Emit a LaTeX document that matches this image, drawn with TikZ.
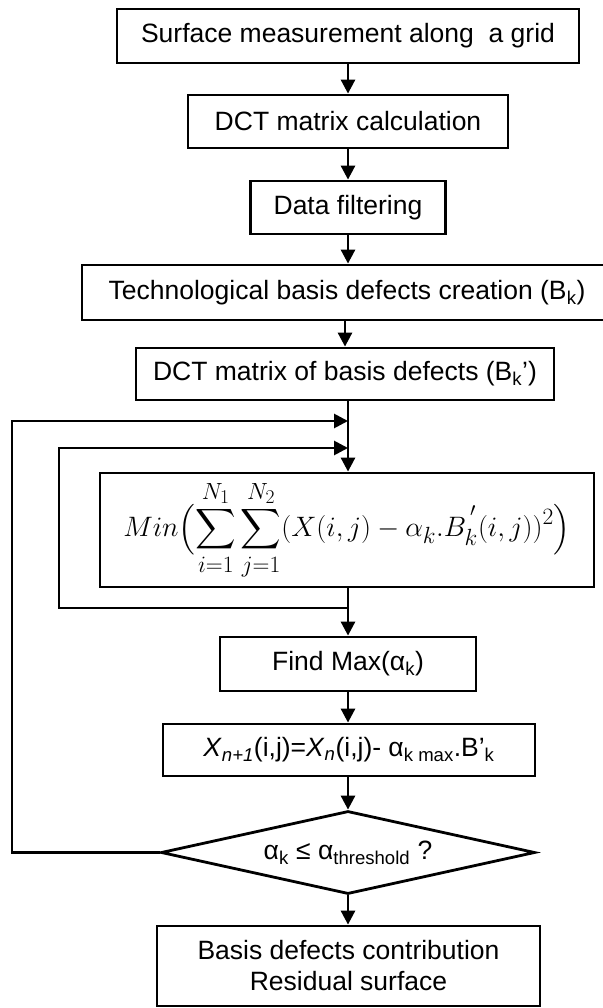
\documentclass[tikz,border=0pt]{standalone}
\usepackage{amsmath}
\usepackage{graphicx}
\usepackage[no-math]{fontspec}
\setmainfont{Liberation Sans}
\usetikzlibrary{shapes.geometric,arrows.meta}
\tikzset{box/.style={draw,rectangle,inner sep=0pt,align=center,line width=2.8pt,font=\fontsize{26.5}{31}\selectfont}}
\tikzset{decide/.style={draw,diamond,aspect=4.5,inner sep=0pt,align=center,line width=2.8pt,font=\fontsize{26.5}{31}\selectfont}}
\tikzset{arr/.style={-{Triangle[length=14pt,width=14pt]},line width=2.8pt}}

\begin{document}
\begin{tikzpicture}[x=1pt,y=-1pt]
    \useasboundingbox (0,0) rectangle (602,1008);

    % main chain of boxes
    \node [box,minimum width=462pt,minimum height=54pt] (meas) at (348,36) {Surface measurement along\ \ a grid};
    \node [box,minimum width=320pt,minimum height=53pt] (dctcalc) at (348,121.5) {DCT matrix calculation};
    \node [box,minimum width=195pt,minimum height=53pt] (filter) at (348,207.5) {Data filtering};
    \node [box,minimum width=530pt,minimum height=55pt] (basis) at (347,292.5) {Technological basis defects creation (B\textsubscript{k})};
    \node [box,minimum width=418pt,minimum height=52pt] (dctbasis) at (345,374) {DCT matrix of basis defects (B\textsubscript{k}’)};

    % least squares
    \node [box,minimum width=494pt,minimum height=114pt] (model) at (347,530)
        {\scalebox{1.13}{\fontsize{24.88}{30}\selectfont$\displaystyle Min\Bigl(\sum_{i=1}^{N_1}\sum_{j=1}^{N_2}(X(i,j)-\alpha_{k}.B_{k}^{\,'}(i,j))^2\Bigr)$}};

    \node [box,minimum width=256pt,minimum height=54pt] (findmax) at (348,664) {Find Max(α\textsubscript{k})};
    \node [box,minimum width=372pt,minimum height=52pt] (update) at (349,750)
        {\textit{X}\textsubscript{\textit{n+1}}(i,j)=\textit{X}\textsubscript{\textit{n}}(i,j)- α\textsubscript{k max}.B’\textsubscript{k}};

    % stop test
    \node [decide,minimum width=374pt,minimum height=83pt] (test) at (348,852.5) {α\textsubscript{k} ≤ α\textsubscript{threshold} ?};

    \node [box,minimum width=383pt,minimum height=80pt] (result) at (348.5,966) {Basis defects contribution\\Residual surface};

    % loop points
    \coordinate (join1) at (348,421);
    \coordinate (join2) at (348,448);
    \coordinate (split) at (348,608);
    \coordinate (outerx) at (12,0);
    \coordinate (innerx) at (59,0);

    % arrows
    \draw [arr] (meas) -- (dctcalc);
    \draw [arr] (dctcalc) -- (filter);
    \draw [arr] (filter) -- (filter |- basis.north);
    \draw [arr] (basis.south -| dctbasis) -- (dctbasis);
    \draw [arr] (dctbasis.south -| join1) -- (join1 |- model.north);
    \draw [arr] (model.south -| split) -- (findmax);
    \draw [arr] (findmax) -- (findmax |- update.north);
    \draw [arr] (findmax |- update.south) -- (test);
    \draw [arr] (test) -- (test |- result.north);

    % feedback loops
    \draw [arr] (test.west) -- (test.west -| outerx) |- (join1);
    \draw [arr] (split) -- (split -| innerx) |- (join2);
\end{tikzpicture}
\end{document}
